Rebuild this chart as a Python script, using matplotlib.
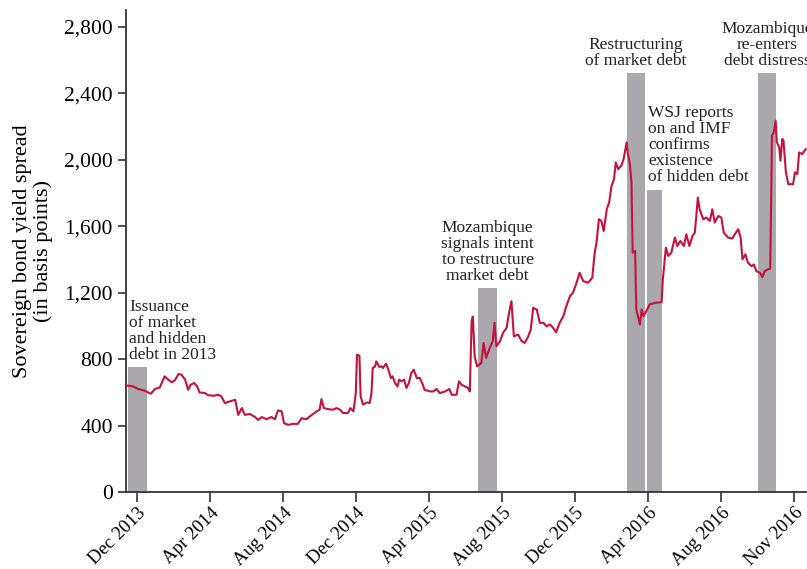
import pandas as pd
import matplotlib.pyplot as plt
from matplotlib.ticker import FuncFormatter

plt.rcParams['font.family'] = ['Liberation Serif', 'DejaVu Serif']

# spread series: days after start date, basis points
start = pd.Timestamp("2013-11-19")
days = [0, 11, 19, 30, 40, 47, 55, 63, 69, 75, 80, 86, 91, 97, 102, 106, 112, 117, 121, 130,
        135, 144, 152, 157, 163, 171, 180, 185, 191, 196, 204, 213, 218, 224, 232, 240, 246, 251, 257, 261,
        268, 276, 284, 290, 298, 307, 315, 320, 323, 327, 334, 342, 348, 354, 359, 367, 371, 376, 380, 382,
        386, 388, 392, 398, 403, 406, 408, 412, 414, 419, 423, 425, 430, 434, 438, 441, 445, 449, 452, 456,
        460, 464, 468, 472, 476, 481, 486, 491, 494, 503, 508, 514, 519, 528, 535, 539, 547, 551, 555, 561,
        566, 569, 572, 574, 577, 581, 588, 592, 596, 601, 607, 610, 613, 619, 624, 630, 634, 638, 642, 649,
        655, 660, 666, 670, 674, 680, 685, 691, 696, 702, 707, 712, 718, 724, 729, 735, 740, 746, 751, 757,
        765, 772, 776, 779, 783, 787, 791, 796, 800, 804, 808, 811, 815, 820, 824, 829, 831, 834, 837, 839,
        843, 845, 851, 854, 857, 863, 867, 876, 887, 889, 894, 898, 903, 909, 913, 918, 924, 928, 933, 938,
        942, 945, 947, 950, 956, 961, 967, 971, 975, 981, 986, 990, 997, 1004, 1010, 1014, 1018, 1021, 1026, 1030,
        1036, 1040, 1044, 1050, 1054, 1058, 1063, 1067, 1070, 1073, 1076, 1078, 1082, 1084, 1087, 1089, 1093, 1097, 1105, 1108,
        1112, 1115, 1120, 1126]
spread = [641, 635, 620, 609, 591, 620, 629, 696, 676, 660, 672, 710, 706, 676, 615, 645, 656, 635, 599, 595,
          583, 579, 585, 575, 535, 545, 555, 464, 505, 464, 470, 451, 434, 451, 438, 451, 438, 491, 485, 414,
          404, 410, 410, 444, 438, 464, 485, 495, 559, 505, 499, 495, 505, 495, 475, 475, 505, 485, 595, 826,
          820, 575, 525, 539, 535, 595, 746, 756, 786, 752, 756, 746, 772, 736, 686, 696, 656, 635, 676, 666,
          676, 626, 656, 716, 736, 686, 686, 646, 615, 605, 605, 620, 595, 605, 620, 585, 585, 666, 646, 635,
          626, 605, 1030, 1055, 816, 756, 776, 897, 807, 857, 907, 1018, 877, 907, 957, 988, 1078, 1148, 937, 947,
          907, 897, 937, 977, 1108, 1098, 1018, 1018, 997, 1008, 988, 961, 1018, 1058, 1118, 1178, 1199, 1259, 1319, 1269,
          1259, 1289, 1440, 1500, 1641, 1631, 1570, 1701, 1742, 1842, 1882, 1983, 1943, 1963, 2003, 2104, 2033, 1983, 1862, 1440,
          1450, 1098, 1008, 1098, 1058, 1098, 1128, 1138, 1142, 1279, 1470, 1420, 1440, 1531, 1480, 1510, 1480, 1550, 1480, 1540,
          1560, 1681, 1772, 1701, 1641, 1651, 1631, 1701, 1621, 1661, 1651, 1560, 1531, 1525, 1560, 1581, 1531, 1400, 1430, 1380,
          1359, 1369, 1329, 1319, 1293, 1329, 1339, 1344, 2144, 2164, 2234, 2104, 2073, 1993, 2124, 2114, 1923, 1852, 1852, 1923,
          1913, 2043, 2033, 2063]

# event bars: start (days after start date), length in days, height
event_start = [2, 583, 829, 863, 1047]
event_len = [32, 31, 31, 24, 29]
event_height = [750, 1225, 2520, 1820, 2520]
event_text = ["Issuance\nof market\nand hidden\ndebt in 2013",
              "Mozambique\nsignals intent\nto restructure\nmarket debt",
              "Restructuring\nof market debt",
              "WSJ reports\non and IMF\nconfirms\nexistence\nof hidden debt",
              "Mozambique\nre-enters\ndebt distress"]
event_align = ["left", "center", "center", "left", "center"]

tick_labels = ["Dec 2013", "Apr 2014", "Aug 2014", "Dec 2014", "Apr 2015",
               "Aug 2015", "Dec 2015", "Apr 2016", "Aug 2016", "Nov 2016"]
tick_dates = pd.date_range("2013-12-07", periods=len(tick_labels), freq="121D")

dates = start + pd.to_timedelta(days, unit="D")
bar_x = start + pd.to_timedelta(event_start, unit="D")

fig = plt.figure(figsize=(8.07, 5.69), dpi=100)
ax = fig.add_axes([126 / 807, 77 / 569, 681 / 807, 482 / 569])

ax.bar(bar_x, event_height, width=event_len, align="edge", color="#aaa8ac", zorder=1)
ax.plot(dates, spread, color="#c4123c", lw=1.5, zorder=3)

for x0, w, h, txt, al in zip(bar_x, event_len, event_height, event_text, event_align):
    if al == "left":
        tx = x0 + pd.Timedelta(days=2)
    else:
        tx = x0 + pd.Timedelta(days=w / 2)
    ax.text(tx, h + 25, txt, ha=al, va="bottom", fontsize=12.5,
            linespacing=1.0, multialignment="center" if al == "center" else "left",
            color="#222222", zorder=4)

ax.set_xlim(start - pd.Timedelta(days=1), start + pd.Timedelta(days=1128))
ax.set_ylim(0, 2900)
ax.set_yticks(range(0, 2801, 400))
ax.yaxis.set_major_formatter(FuncFormatter(lambda v, p: f"{int(v):,}"))
ax.set_xticks(tick_dates)
ax.set_xticklabels(tick_labels, rotation=45, ha="right", rotation_mode="anchor")

ax.tick_params(axis="y", labelsize=15.5, length=6, width=1.2, color="#333333")
ax.tick_params(axis="x", labelsize=13.5, length=7, width=1.2, color="#333333", pad=2)
for s in ["top", "right"]:
    ax.spines[s].set_visible(False)
for s in ["left", "bottom"]:
    ax.spines[s].set_linewidth(1.3)
    ax.spines[s].set_color("#333333")

ax.set_ylabel("Sovereign bond yield spread\n(in basis points)", fontsize=16,
              linespacing=1.05, labelpad=8)

fig.savefig("out.png", dpi=100)
